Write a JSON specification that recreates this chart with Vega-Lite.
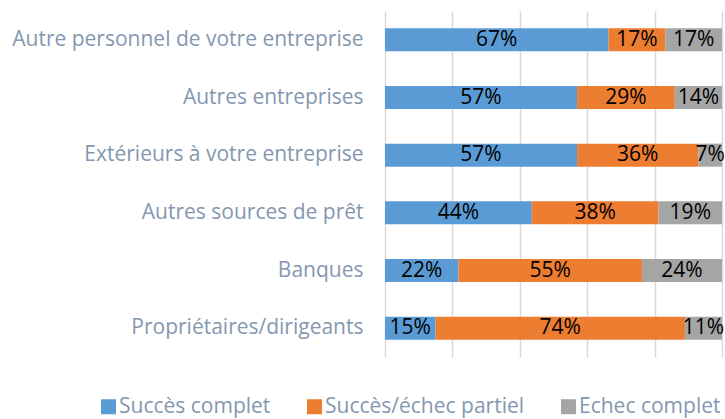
{
  "$schema": "https://vega.github.io/schema/vega-lite/v6.json",
  "width": 337,
  "height": 346,
  "autosize": {"type": "none"},
  "padding": {"left": 385, "top": 11, "right": 3, "bottom": 62},
  "background": "white",
  "data": {
    "values": [
      {"cat": "Autre personnel de votre entreprise", "s": "Succès complet", "ord": 1, "v": 67},
      {"cat": "Autre personnel de votre entreprise", "s": "Succès/échec partiel", "ord": 2, "v": 17},
      {"cat": "Autre personnel de votre entreprise", "s": "Echec complet", "ord": 3, "v": 17},
      {"cat": "Autres entreprises", "s": "Succès complet", "ord": 1, "v": 57},
      {"cat": "Autres entreprises", "s": "Succès/échec partiel", "ord": 2, "v": 29},
      {"cat": "Autres entreprises", "s": "Echec complet", "ord": 3, "v": 14},
      {"cat": "Extérieurs à votre entreprise", "s": "Succès complet", "ord": 1, "v": 57},
      {"cat": "Extérieurs à votre entreprise", "s": "Succès/échec partiel", "ord": 2, "v": 36},
      {"cat": "Extérieurs à votre entreprise", "s": "Echec complet", "ord": 3, "v": 7},
      {"cat": "Autres sources de prêt", "s": "Succès complet", "ord": 1, "v": 44},
      {"cat": "Autres sources de prêt", "s": "Succès/échec partiel", "ord": 2, "v": 38},
      {"cat": "Autres sources de prêt", "s": "Echec complet", "ord": 3, "v": 19},
      {"cat": "Banques", "s": "Succès complet", "ord": 1, "v": 22},
      {"cat": "Banques", "s": "Succès/échec partiel", "ord": 2, "v": 55},
      {"cat": "Banques", "s": "Echec complet", "ord": 3, "v": 24},
      {"cat": "Propriétaires/dirigeants", "s": "Succès complet", "ord": 1, "v": 15},
      {"cat": "Propriétaires/dirigeants", "s": "Succès/échec partiel", "ord": 2, "v": 74},
      {"cat": "Propriétaires/dirigeants", "s": "Echec complet", "ord": 3, "v": 11}
    ]
  },
  "encoding": {
    "y": {
      "field": "cat", "type": "nominal", "sort": null,
      "scale": {"paddingInner": 0.6, "paddingOuter": 0.3},
      "axis": {"title": null, "domain": false, "ticks": false, "labelPadding": 22,
               "labelFont": "Open Sans", "labelFontSize": 21, "labelColor": "#8497B0", "labelLimit": 400}
    },
    "x": {
      "field": "v", "type": "quantitative", "stack": "normalize",
      "scale": {"domain": [0, 1]},
      "axis": {"title": null, "labels": false, "ticks": false, "domain": false,
               "grid": true, "gridColor": "#D9D9D9", "gridWidth": 1.5, "values": [0, 0.2, 0.4, 0.6, 0.8, 1]}
    },
    "order": {"field": "ord", "type": "quantitative"}
  },
  "layer": [
    {
      "mark": {"type": "bar"},
      "encoding": {
        "color": {
          "field": "s", "type": "nominal",
          "scale": {"domain": ["Succès complet", "Succès/échec partiel", "Echec complet"],
                    "range": ["#5B9BD5", "#ED7D31", "#A5A5A5"]},
          "legend": {
            "title": null, "orient": "none", "direction": "horizontal",
            "legendX": -287, "legendY": 385, "padding": 0,
            "symbolType": "square", "symbolSize": 225, "symbolStrokeWidth": 0, "symbolOpacity": 1,
            "labelFont": "Open Sans", "labelFontSize": 21, "labelColor": "#8497B0",
            "labelOffset": 0, "columnPadding": 33, "labelLimit": 300
          }
        }
      }
    },
    {
      "mark": {"type": "text", "font": "Open Sans", "fontSize": 21, "color": "black",
               "text": {"expr": "datum.v + '%'"}},
      "encoding": {
        "x": {"field": "v", "type": "quantitative", "stack": "normalize", "bandPosition": 0.5}
      }
    }
  ],
  "config": {"view": {"stroke": null}}
}
